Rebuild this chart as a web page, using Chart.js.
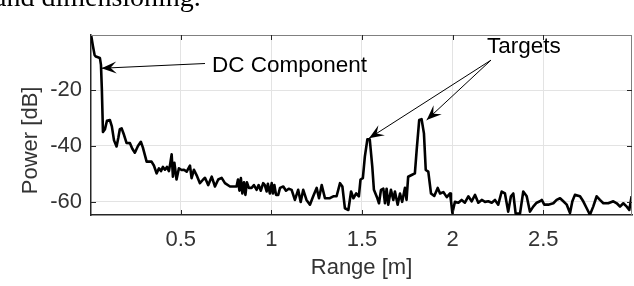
<!DOCTYPE html>
<html><head><meta charset="utf-8">
<script src="https://cdn.jsdelivr.net/npm/chart.js@4/dist/chart.umd.min.js"></script>
<style>html,body{margin:0;padding:0;background:#fff;overflow:hidden}canvas{display:block}</style>
</head><body>
<canvas id="c" width="634" height="286"></canvas>
<script>
// ---- data ----
const rangeM = [0.006,0.015,0.025,0.032,0.054,0.060,0.065,0.071,0.082,0.093,0.109,0.120,0.132,0.146,0.156,0.164,0.174,0.187,0.201,0.220,0.233,0.247,0.264,0.280,0.291,0.312,0.339,0.352,0.367,0.380,0.391,0.402,0.413,0.424,0.435,0.443,0.450,0.457,0.465,0.477,0.490,0.505,0.518,0.533,0.551,0.560,0.573,0.588,0.606,0.624,0.634,0.652,0.671,0.689,0.707,0.726,0.744,0.772,0.808,0.816,0.824,0.832,0.840,0.849,0.857,0.865,0.876,0.891,0.904,0.919,0.930,0.942,0.955,0.964,0.974,0.981,0.992,1.002,1.009,1.017,1.026,1.038,1.048,1.066,1.081,1.096,1.112,1.130,1.148,1.162,1.176,1.194,1.213,1.231,1.250,1.263,1.278,1.296,1.323,1.342,1.360,1.379,1.392,1.406,1.425,1.440,1.453,1.468,1.483,1.492,1.505,1.516,1.530,1.543,1.557,1.566,1.585,1.594,1.605,1.618,1.627,1.636,1.645,1.660,1.673,1.682,1.697,1.710,1.722,1.737,1.746,1.755,1.774,1.792,1.802,1.816,1.829,1.842,1.852,1.866,1.881,1.899,1.918,1.931,1.949,1.968,1.986,1.991,1.999,2.013,2.032,2.050,2.068,2.087,2.105,2.124,2.142,2.161,2.179,2.197,2.216,2.234,2.252,2.271,2.289,2.307,2.322,2.335,2.348,2.372,2.390,2.409,2.427,2.445,2.464,2.482,2.492,2.506,2.528,2.556,2.574,2.593,2.611,2.630,2.648,2.661,2.675,2.703,2.721,2.740,2.758,2.776,2.795,2.813,2.832,2.859,2.887,2.906,2.924,2.942,2.961,2.975,2.988];
const powerDb = [-0.5,-4,-7.5,-8,-8.5,-11,-20,-35,-34,-31,-30.7,-33,-38,-40.2,-37,-34,-33.7,-36,-38.9,-39,-41,-42.4,-40,-38.5,-40.5,-45.6,-45.6,-47,-49.8,-48,-49,-47.5,-48.5,-47.5,-49,-46,-43,-51,-46,-52,-48,-48.6,-48.5,-49.2,-47,-51.5,-48.5,-50.5,-53.3,-52,-51.4,-54,-51,-54.5,-52,-51.4,-53.3,-54.5,-54.5,-52,-56,-51.5,-57,-53,-57.5,-53,-55,-55,-54,-55.7,-54,-56,-53.3,-54,-56.3,-53.5,-57,-53.3,-57,-54,-57.5,-57.5,-55,-54.5,-56,-55.3,-55.7,-59.3,-55.7,-60,-55.7,-59.3,-61,-58,-55,-58.7,-54,-58.7,-58.7,-58,-58,-53.3,-54.5,-62.3,-62.9,-56.3,-58.7,-57,-58,-52,-51.5,-43.8,-37.6,-37.6,-47.4,-55.7,-58.7,-60.5,-55.7,-55.3,-60.5,-55.3,-61,-55.7,-59.3,-56.3,-61,-57,-60,-55,-59.3,-51,-50.4,-49.8,-41.4,-30.7,-30.4,-35.5,-48.6,-49.2,-57,-57.9,-55,-57,-56.5,-58.3,-57,-59.5,-64,-60,-60.3,-59.3,-60.3,-58,-59.8,-57.5,-60.3,-59.3,-60,-59.8,-60.3,-59.3,-61,-56.3,-57,-63.5,-58,-57,-64.2,-64.2,-56.3,-58,-63.5,-61.7,-60.3,-59.8,-59.3,-61,-61,-60.5,-59.3,-58.7,-59.8,-61,-64,-59.8,-57.5,-58,-59.8,-62.3,-64.6,-61.7,-58,-59.3,-60.5,-60.5,-59.8,-60.5,-61.7,-60.5,-61.7,-62.9,-58];
const xTickValues = [0.5, 1, 1.5, 2, 2.5];
const yTickValues = [-60, -40, -20];
const xLimits = [0.005, 2.99];
const yLimits = [-64.7, -0.3];
const xTitle = 'Range [m]';
const yTitle = 'Power [dB]';
const yTitleCenterDb = -38;   // label centred a little below mid-axis, as in the reference
// annotations, in data units
const dcLabel = 'DC Component';
const dcLabelAt = [0.672, -11.4];
const dcTail = [0.634, -10.5];
const dcTip = [0.063, -12.2];
const targetsLabel = 'Targets';
const targetsLabelAt = [2.19, -4.4];
const targetsTail = [2.212, -9.3];
const targetsTips = [[1.539, -37.25], [1.857, -30.7]];
const captionFragment = 'and dimensioning.';

const FONT = "'Liberation Sans', Arial, Helvetica, sans-serif";
const points = rangeM.map((x, i) => ({x, y: powerDb[i]}));

function arrow(ctx, x1, y1, x2, y2) {
  ctx.save();
  ctx.strokeStyle = '#000'; ctx.fillStyle = '#000'; ctx.lineWidth = 1;
  ctx.beginPath(); ctx.moveTo(x1, y1); ctx.lineTo(x2, y2); ctx.stroke();
  const a = Math.atan2(y2 - y1, x2 - x1);
  const L = 15, W = 6, N = 9;
  const ca = Math.cos(a), sa = Math.sin(a);
  const bx = x2 - L * ca, by = y2 - L * sa;
  ctx.beginPath();
  ctx.moveTo(x2, y2);
  ctx.lineTo(bx - W * sa, by + W * ca);
  ctx.lineTo(x2 - N * ca, y2 - N * sa);
  ctx.lineTo(bx + W * sa, by - W * ca);
  ctx.closePath(); ctx.fill();
  ctx.restore();
}

const decor = {
  id: 'decor',
  afterDraw(chart) {
    const {ctx, chartArea: ca, scales: {x, y}} = chart;
    ctx.save();
    // box top/right
    ctx.strokeStyle = '#808080'; ctx.lineWidth = 1;
    ctx.beginPath();
    ctx.moveTo(ca.left, ca.top + 0.5); ctx.lineTo(ca.right, ca.top + 0.5);
    ctx.moveTo(ca.right - 0.5, ca.top); ctx.lineTo(ca.right - 0.5, ca.bottom);
    ctx.stroke();
    // inward ticks
    ctx.strokeStyle = '#262626';
    ctx.beginPath();
    xTickValues.forEach(v => {
      const px = Math.round(x.getPixelForValue(v)) + 0.5;
      ctx.moveTo(px, ca.bottom); ctx.lineTo(px, ca.bottom - 5);
      ctx.moveTo(px, ca.top); ctx.lineTo(px, ca.top + 5);
    });
    yTickValues.forEach(v => {
      const py = Math.round(y.getPixelForValue(v)) + 0.5;
      ctx.moveTo(ca.left, py); ctx.lineTo(ca.left + 5, py);
      ctx.moveTo(ca.right, py); ctx.lineTo(ca.right - 5, py);
    });
    ctx.stroke();
    // y-axis title
    ctx.save();
    ctx.translate(31, y.getPixelForValue(yTitleCenterDb));
    ctx.rotate(-Math.PI / 2);
    ctx.fillStyle = '#333'; ctx.font = '22px ' + FONT;
    ctx.textAlign = 'center'; ctx.textBaseline = 'middle';
    ctx.fillText(yTitle, 0, 0);
    ctx.restore();
    // annotations
    const P = (p) => [x.getPixelForValue(p[0]), y.getPixelForValue(p[1])];
    const [dtx, dty] = P(dcTail), [dpx, dpy] = P(dcTip);
    arrow(ctx, dtx, dty, dpx, dpy);
    const [ttx, tty] = P(targetsTail);
    targetsTips.forEach(t => { const [a, b] = P(t); arrow(ctx, ttx, tty, a, b); });
    ctx.fillStyle = '#000';
    ctx.font = '22.5px ' + FONT;
    ctx.textAlign = 'left'; ctx.textBaseline = 'middle';
    const [lx, ly] = P(dcLabelAt); ctx.fillText(dcLabel, lx, ly);
    const [gx, gy] = P(targetsLabelAt); ctx.fillText(targetsLabel, gx, gy);
    // caption fragment above the figure (cut off by the page edge)
    ctx.font = "28px 'Liberation Serif', 'Times New Roman', serif";
    ctx.textBaseline = 'alphabetic';
    ctx.fillText(captionFragment, -6, 6);
    ctx.restore();
  }
};

new Chart(document.getElementById('c'), {
  type: 'line',
  data: { datasets: [{ data: points, borderColor: '#000', borderWidth: 2.6, pointRadius: 0, tension: 0, fill: false, borderJoinStyle: 'round' }] },
  options: {
    responsive: false, animation: false, devicePixelRatio: 1,
    layout: { padding: { top: 35, right: 2, left: 0, bottom: 0 } },
    plugins: { legend: { display: false }, tooltip: { enabled: false } },
    scales: {
      x: {
        type: 'linear', min: xLimits[0], max: xLimits[1],
        afterBuildTicks: s => { s.ticks = xTickValues.map(v => ({value: v})); },
        afterFit: s => { s.height = 71; },
        grid: { color: '#e3e3e3', lineWidth: 1, drawTicks: false },
        border: { color: '#262626', width: 1.5 },
        ticks: { autoSkip: false, maxRotation: 0, padding: 12, color: '#333', font: { family: FONT, size: 22 }, callback: v => String(v) },
        title: { display: true, text: xTitle, color: '#333', font: { family: FONT, size: 22 }, padding: { top: 0, bottom: 5 } }
      },
      y: {
        min: yLimits[0], max: yLimits[1],
        afterBuildTicks: s => { s.ticks = yTickValues.map(v => ({value: v})); },
        afterFit: s => { s.width = 91; },
        grid: { color: '#e3e3e3', lineWidth: 1, drawTicks: false },
        border: { color: '#262626', width: 1.5 },
        ticks: { padding: 9, color: '#333', font: { family: FONT, size: 22 }, callback: v => String(v) },
        title: { display: false }
      }
    }
  },
  plugins: [decor]
});
</script>
</body></html>
